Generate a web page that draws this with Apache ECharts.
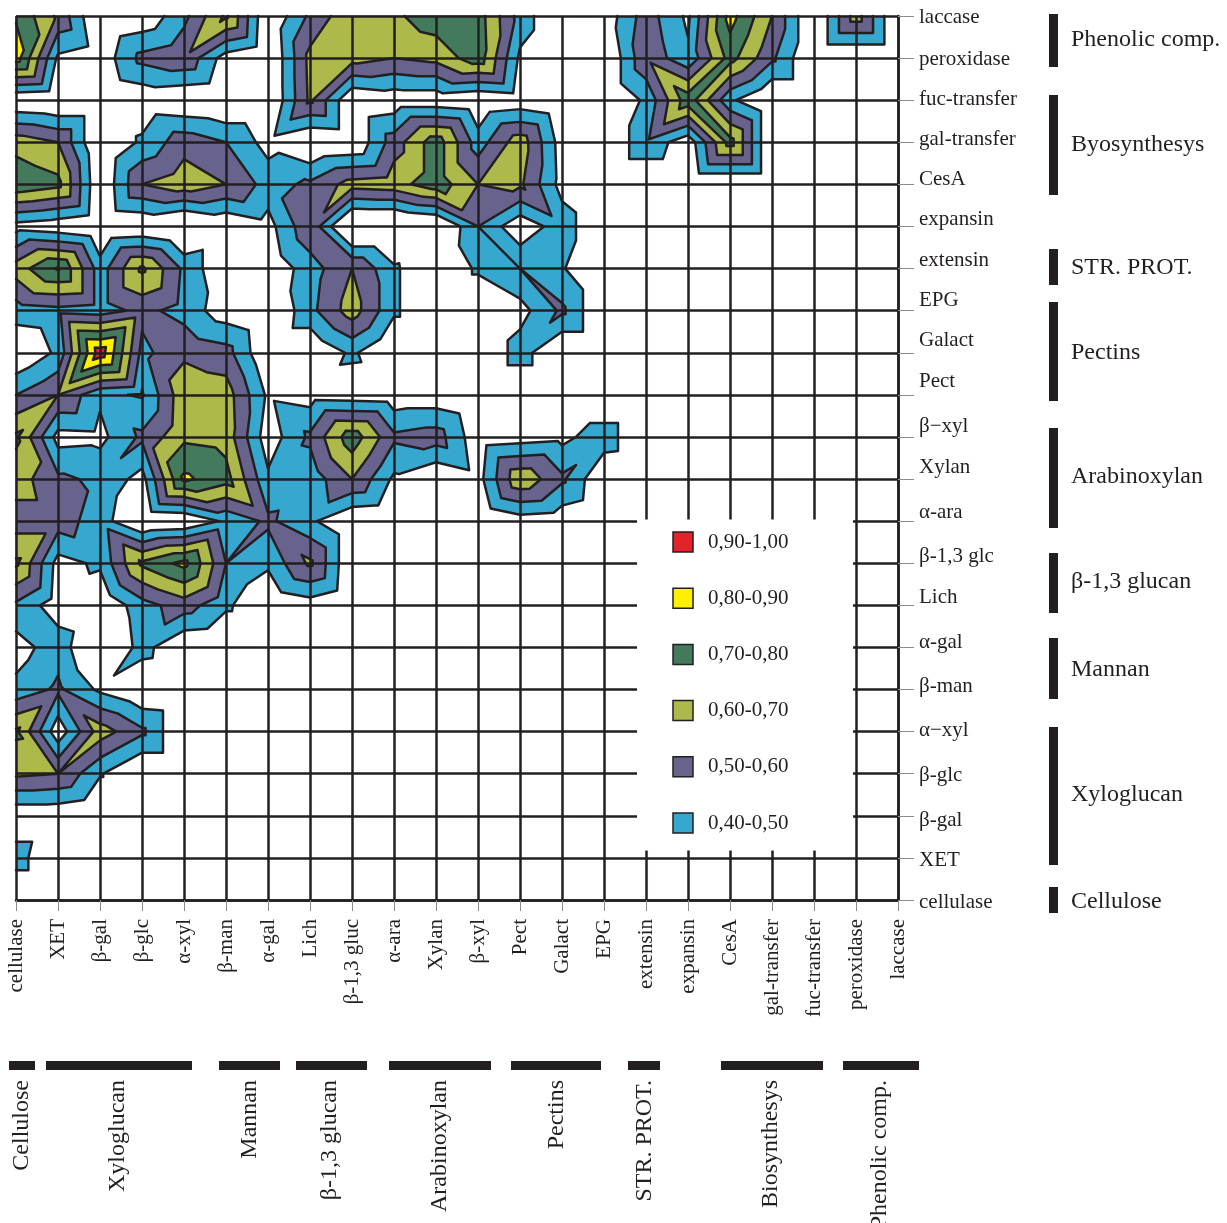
<!DOCTYPE html>
<html>
<head>
<meta charset="utf-8">
<script src="https://cdn.jsdelivr.net/npm/echarts@6/dist/echarts.min.js"></script>
<style>
html, body { margin: 0; padding: 0; background: #ffffff; }
#chart { width: 1227px; height: 1223px; }
</style>
</head>
<body>
<div id="chart"></div>
<script>
// Enzyme / polysaccharide categories (x: left to right, y: bottom to top)
const xLabels = ['cellulase', 'XET', 'β-gal', 'β-glc', 'α-xyl', 'β-man', 'α-gal', 'Lich', 'β-1,3 gluc', 'α-ara', 'Xylan', 'β-xyl', 'Pect', 'Galact', 'EPG', 'extensin', 'expansin', 'CesA', 'gal-transfer', 'fuc-transfer', 'peroxidase', 'laccase'];
const yLabels = ['cellulase', 'XET', 'β-gal', 'β-glc', 'α−xyl', 'β-man', 'α-gal', 'Lich', 'β-1,3 glc', 'α-ara', 'Xylan', 'β−xyl', 'Pect', 'Galact', 'EPG', 'extensin', 'expansin', 'CesA', 'gal-transfer', 'fuc-transfer', 'peroxidase', 'laccase'];

// Correlation values, one row per y category, columns follow xLabels
const rLaccase     = [0.79, 0.58, 0.28, 0.32, 0.47, 0.72, 0.30, 0.52, 0.68, 0.68, 0.76, 0.75, 0.46, 0.28, 0.33, 0.55, 0.38, 0.84, 0.60, 0.28, 0.65, 0.28];
const rPeroxidase  = [0.85, 0.38, 0.33, 0.53, 0.58, 0.35, 0.28, 0.63, 0.64, 0.60, 0.63, 0.76, 0.38, 0.28, 0.28, 0.58, 0.42, 0.74, 0.52, 0.28, 0.28, 0.28];
const rFucTransfer = [0.30, 0.28, 0.28, 0.32, 0.30, 0.28, 0.28, 0.62, 0.30, 0.33, 0.33, 0.30, 0.33, 0.28, 0.28, 0.42, 0.76, 0.42, 0.28, 0.28, 0.28, 0.28];
const rGalTransfer = [0.66, 0.60, 0.28, 0.42, 0.56, 0.50, 0.36, 0.28, 0.30, 0.55, 0.76, 0.45, 0.66, 0.35, 0.28, 0.48, 0.33, 0.74, 0.28, 0.28, 0.28, 0.28];
const rCesA        = [0.78, 0.73, 0.30, 0.60, 0.66, 0.60, 0.46, 0.52, 0.64, 0.66, 0.76, 0.60, 0.62, 0.36, 0.28, 0.28, 0.28, 0.28, 0.28, 0.28, 0.28, 0.28];
const rExpansin    = [0.36, 0.33, 0.28, 0.30, 0.24, 0.30, 0.36, 0.58, 0.22, 0.22, 0.26, 0.50, 0.32, 0.46, 0.28, 0.28, 0.28, 0.28, 0.28, 0.28, 0.28, 0.28];
const rExtensin    = [0.65, 0.81, 0.45, 0.72, 0.48, 0.30, 0.32, 0.45, 0.60, 0.42, 0.28, 0.42, 0.50, 0.41, 0.28, 0.28, 0.28, 0.28, 0.28, 0.28, 0.28, 0.28];
const rEPG         = [0.45, 0.47, 0.45, 0.53, 0.46, 0.34, 0.28, 0.47, 0.65, 0.42, 0.28, 0.28, 0.36, 0.52, 0.28, 0.28, 0.28, 0.28, 0.28, 0.28, 0.28, 0.28];
const rGalact      = [0.30, 0.42, 0.96, 0.47, 0.58, 0.54, 0.30, 0.30, 0.42, 0.28, 0.28, 0.28, 0.45, 0.28, 0.28, 0.28, 0.28, 0.28, 0.28, 0.28, 0.28, 0.28];
const rPect        = [0.50, 0.60, 0.42, 0.39, 0.67, 0.65, 0.38, 0.35, 0.34, 0.33, 0.33, 0.28, 0.28, 0.28, 0.28, 0.28, 0.28, 0.28, 0.28, 0.28, 0.28, 0.28];
const rBXyl        = [0.72, 0.36, 0.37, 0.52, 0.68, 0.66, 0.34, 0.52, 0.76, 0.52, 0.55, 0.33, 0.35, 0.37, 0.46, 0.28, 0.28, 0.28, 0.28, 0.28, 0.28, 0.28];
const rXylan       = [0.65, 0.52, 0.48, 0.36, 0.82, 0.74, 0.42, 0.44, 0.60, 0.38, 0.30, 0.36, 0.68, 0.52, 0.30, 0.28, 0.28, 0.28, 0.28, 0.28, 0.28, 0.28];
const rAAra        = [0.55, 0.55, 0.45, 0.28, 0.30, 0.42, 0.52, 0.42, 0.30, 0.28, 0.28, 0.28, 0.35, 0.33, 0.28, 0.28, 0.28, 0.28, 0.28, 0.28, 0.28, 0.28];
const rB13Glc      = [0.72, 0.36, 0.42, 0.72, 0.83, 0.50, 0.42, 0.62, 0.30, 0.28, 0.28, 0.28, 0.28, 0.28, 0.28, 0.28, 0.28, 0.28, 0.28, 0.28, 0.28, 0.28];
const rLich        = [0.48, 0.34, 0.30, 0.46, 0.55, 0.42, 0.30, 0.35, 0.28, 0.28, 0.28, 0.28, 0.28, 0.28, 0.28, 0.28, 0.28, 0.28, 0.28, 0.28, 0.28, 0.28];
const rAGal        = [0.35, 0.46, 0.26, 0.44, 0.30, 0.28, 0.28, 0.28, 0.28, 0.28, 0.28, 0.28, 0.28, 0.28, 0.28, 0.28, 0.28, 0.28, 0.28, 0.28, 0.28, 0.28];
const rBMan        = [0.43, 0.52, 0.38, 0.30, 0.28, 0.28, 0.28, 0.28, 0.28, 0.28, 0.28, 0.28, 0.28, 0.28, 0.28, 0.28, 0.28, 0.28, 0.28, 0.28, 0.28, 0.28];
const rAXyl        = [0.72, 0.33, 0.65, 0.52, 0.28, 0.28, 0.28, 0.28, 0.28, 0.28, 0.28, 0.28, 0.28, 0.28, 0.28, 0.28, 0.28, 0.28, 0.28, 0.28, 0.28, 0.28];
const rBGlc        = [0.62, 0.60, 0.41, 0.28, 0.28, 0.28, 0.28, 0.28, 0.28, 0.28, 0.28, 0.28, 0.28, 0.28, 0.28, 0.28, 0.28, 0.28, 0.28, 0.28, 0.28, 0.28];
const rBGal        = [0.32, 0.32, 0.28, 0.28, 0.28, 0.28, 0.28, 0.28, 0.28, 0.28, 0.28, 0.28, 0.28, 0.28, 0.28, 0.28, 0.28, 0.28, 0.28, 0.28, 0.28, 0.28];
const rXET         = [0.45, 0.28, 0.28, 0.28, 0.28, 0.28, 0.28, 0.28, 0.28, 0.28, 0.28, 0.28, 0.28, 0.28, 0.28, 0.28, 0.28, 0.28, 0.28, 0.28, 0.28, 0.28];
const rCellulase   = [0.28, 0.28, 0.28, 0.28, 0.28, 0.28, 0.28, 0.28, 0.28, 0.28, 0.28, 0.28, 0.28, 0.28, 0.28, 0.28, 0.28, 0.28, 0.28, 0.28, 0.28, 0.28];

// Contour class boundaries and legend texts
const levels = [0.4, 0.5, 0.6, 0.7, 0.8, 0.9];
const legendTexts = ['0,90-1,00', '0,80-0,90', '0,70-0,80', '0,60-0,70', '0,50-0,60', '0,40-0,50'];

// Group names along the two axes
const rightGroups = ['Phenolic comp.', 'Byosynthesys', 'STR. PROT.', 'Pectins', 'Arabinoxylan', 'β-1,3 glucan', 'Mannan', 'Xyloglucan', 'Cellulose'];
const bottomGroups = ['Cellulose', 'Xyloglucan', 'Mannan', 'β-1,3 glucan', 'Arabinoxylan', 'Pectins', 'STR. PROT.', 'Biosynthesys', 'Phenolic comp.'];

// ---------- styling / layout ----------
const INK = '#231f20';
const FONT = '"Liberation Serif", "Times New Roman", serif';
const bandColors = ['#36a8d0', '#68638d', '#adb94b', '#437a5b', '#fff000', '#e3222a'];
// vertical nudges (px, positive = up) for the right-hand labels
const yLabelShift = [-2, -3, -5, -2, 1, 3, 5, 8, 7, 9, 12, 10, 13, 12, 10, 8, 7, 5, 3, 1, -1, -1];
// [top, bottom, text centre] of the right-hand group bars
const rightGroupBoxes = [[14, 67, 40], [95, 195, 145], [249, 285, 268], [302, 401, 353], [428, 528, 477], [553, 613, 582], [638, 699, 670], [727, 865, 795], [887, 913, 902]];
// [left, right, text centre] of the bottom group bars
const bottomGroupBoxes = [[9, 35, 22], [46, 192, 118], [219, 280, 250], [296, 367, 330], [389, 491, 440], [511, 601, 557], [628, 660, 645], [721, 823, 771], [843, 919, 880]];

// grid rows bottom -> top
const grid = [rCellulase, rXET, rBGal, rBGlc, rAXyl, rBMan, rAGal, rLich, rB13Glc, rAAra, rXylan, rBXyl, rPect, rGalact, rEPG, rExtensin, rExpansin, rCesA, rGalTransfer, rFucTransfer, rPeroxidase, rLaccase];

// clip a triangle (points [x, y, v]) to the part where v >= t
function clipAbove(tri, t) {
  const out = [];
  for (let k = 0; k < tri.length; k++) {
    const a = tri[k], b = tri[(k + 1) % tri.length];
    const ain = a[2] >= t, bin = b[2] >= t;
    if (ain) out.push(a);
    if (ain !== bin) {
      const f = (t - a[2]) / (b[2] - a[2]);
      out.push([a[0] + (b[0] - a[0]) * f, a[1] + (b[1] - a[1]) * f, t]);
    }
  }
  return out;
}
// iso segment of level t inside a triangle
function isoSegment(tri, t) {
  const pts = [];
  for (let k = 0; k < 3; k++) {
    const a = tri[k], b = tri[(k + 1) % 3];
    if ((a[2] >= t) !== (b[2] >= t)) {
      const f = (t - a[2]) / (b[2] - a[2]);
      pts.push([a[0] + (b[0] - a[0]) * f, a[1] + (b[1] - a[1]) * f]);
    }
  }
  return pts.length === 2 ? pts : null;
}

function renderContours(params, api) {
  const n = xLabels.length - 1;
  const m = yLabels.length - 1;
  const o = api.coord([0, 0]);
  const e = api.coord([n, m]);
  const px = (x, y) => [o[0] + (e[0] - o[0]) * x / n, o[1] + (e[1] - o[1]) * y / m];
  const fillPaths = levels.map(() => []);
  const linePath = [];
  for (let j = 0; j < m; j++) {
    for (let i = 0; i < n; i++) {
      const c = [[i, j, grid[j][i]], [i + 1, j, grid[j][i + 1]], [i + 1, j + 1, grid[j + 1][i + 1]], [i, j + 1, grid[j + 1][i]]];
      // split the cell along the diagonal that touches its highest corner
      let top = 0;
      for (let k = 1; k < 4; k++) if (c[k][2] > c[top][2]) top = k;
      const tris = (top % 2 === 0)
        ? [[c[0], c[1], c[2]], [c[0], c[2], c[3]]]
        : [[c[0], c[1], c[3]], [c[1], c[2], c[3]]];
      tris.forEach(tri => {
        levels.forEach((t, li) => {
          const poly = clipAbove(tri, t);
          if (poly.length >= 3) {
            fillPaths[li].push(poly.map((p, q) => {
              const s = px(p[0], p[1]);
              return (q ? 'L' : 'M') + s[0].toFixed(2) + ' ' + s[1].toFixed(2);
            }).join('') + 'Z');
          }
          const seg = isoSegment(tri, t);
          if (seg) {
            const a = px(seg[0][0], seg[0][1]), b = px(seg[1][0], seg[1][1]);
            linePath.push('M' + a[0].toFixed(2) + ' ' + a[1].toFixed(2) + 'L' + b[0].toFixed(2) + ' ' + b[1].toFixed(2));
          }
        });
      });
    }
  }
  const children = [];
  fillPaths.forEach((parts, li) => {
    if (!parts.length) return;
    children.push({
      type: 'path',
      shape: { pathData: parts.join('') },
      style: { fill: bandColors[li], stroke: bandColors[li], lineWidth: 0.6 }
    });
  });
  if (linePath.length) {
    children.push({
      type: 'path',
      shape: { pathData: linePath.join('') },
      style: { fill: null, stroke: INK, lineWidth: 2.5, lineCap: 'round', lineJoin: 'round' }
    });
  }
  return { type: 'group', children };
}

// right-hand label nudges as rich styles
const yRich = {};
yLabelShift.forEach((d, k) => {
  yRich['o' + k] = { padding: d >= 0 ? [0, 0, 2 * d, 0] : [-2 * d, 0, 0, 0] };
});

const graphics = [];
// legend panel
graphics.push({ type: 'rect', shape: { x: 637, y: 519.5, width: 216, height: 331 }, style: { fill: '#ffffff' }, z: 50 });
legendTexts.forEach((txt, k) => {
  const cy = 542 + k * 56.2;
  graphics.push({ type: 'rect', shape: { x: 673, y: cy - 10, width: 20, height: 20 }, style: { fill: bandColors[5 - k], stroke: INK, lineWidth: 1.5 }, z: 51 });
  graphics.push({ type: 'text', x: 708, y: cy, style: { text: txt, fill: INK, font: '21px ' + FONT, verticalAlign: 'middle', align: 'left' }, z: 51 });
});
// right-hand groups
rightGroups.forEach((name, k) => {
  const b = rightGroupBoxes[k];
  graphics.push({ type: 'rect', shape: { x: 1049, y: b[0], width: 9, height: b[1] - b[0] }, style: { fill: INK }, z: 51 });
  graphics.push({ type: 'text', x: 1071, y: b[2], style: { text: name, fill: INK, font: '24px ' + FONT, verticalAlign: 'middle', align: 'left' }, z: 51 });
});
// bottom groups
bottomGroups.forEach((name, k) => {
  const b = bottomGroupBoxes[k];
  graphics.push({ type: 'rect', shape: { x: b[0], y: 1061, width: b[1] - b[0], height: 9 }, style: { fill: INK }, z: 51 });
  graphics.push({ type: 'text', x: b[2], y: 1080, rotation: Math.PI / 2, style: { text: name, fill: INK, font: '24px ' + FONT, verticalAlign: 'middle', align: 'right' }, z: 51 });
});

const chart = echarts.init(document.getElementById('chart'));
chart.setOption({
  animation: false,
  backgroundColor: '#ffffff',
  grid: { left: 16, top: 16, right: 329, bottom: 323, outerBoundsMode: 'none' },
  xAxis: {
    type: 'category', data: xLabels, boundaryGap: false, z: 5,
    axisLine: { lineStyle: { color: INK, width: 2.5 } },
    axisTick: { show: true, length: 11, lineStyle: { color: '#8c8c8c', width: 1 } },
    axisLabel: { interval: 0, rotate: 90, margin: 19, color: INK, fontFamily: FONT, fontSize: 21 },
    splitLine: { show: true, lineStyle: { color: INK, width: 2.5 } }
  },
  yAxis: {
    type: 'category', data: yLabels, boundaryGap: false, position: 'right', z: 5,
    axisLine: { lineStyle: { color: INK, width: 2.5 } },
    axisTick: { show: true, length: 16, lineStyle: { color: '#8c8c8c', width: 1 } },
    axisLabel: {
      interval: 0, margin: 21, color: INK, fontFamily: FONT, fontSize: 21,
      formatter: (v, k) => '{o' + k + '|' + v + '}', rich: yRich
    },
    splitLine: { show: true, lineStyle: { color: INK, width: 2.5 } }
  },
  series: [{
    type: 'custom', coordinateSystem: 'cartesian2d', renderItem: renderContours,
    data: [[0, 0]], z: 1, clip: false, silent: true
  }],
  graphic: { elements: graphics }
});
</script>
</body>
</html>
